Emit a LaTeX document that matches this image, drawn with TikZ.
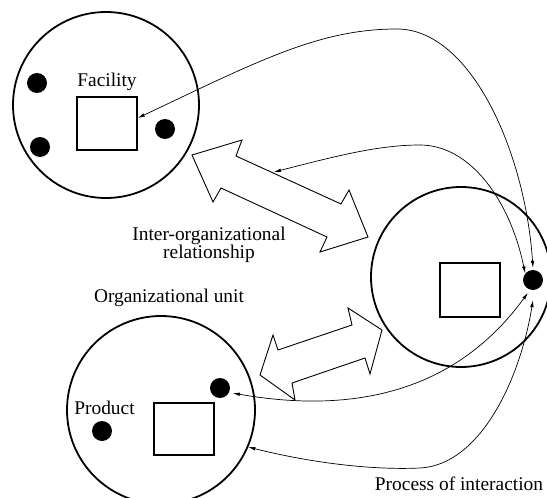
\documentclass[tikz,border=0pt]{standalone}
\usepackage{fontspec}
\setmainfont{Liberation Serif}
\usetikzlibrary{arrows.meta}
\begin{document}
\begin{tikzpicture}[x=1pt,y=-1pt,
  unit/.style={circle,draw,line width=1.8pt,minimum size=#1,inner sep=0pt},
  fac/.style={draw,line width=1.6pt,minimum width=60pt,minimum height=#1,inner sep=0pt},
  dot/.style={circle,fill,minimum size=20pt,inner sep=0pt},
  lbl/.style={font=\fontsize{19.4}{18.3}\selectfont,inner sep=0pt},
  rel/.style={draw,line width=0.9pt,line join=miter},
  flow/.style={line width=0.7pt,{Latex[length=7pt,width=3.6pt]}-{Latex[length=7pt,width=3.6pt]}}]
\useasboundingbox (0,0) rectangle (547,498);
% organizational units
\node[unit=186pt] (uA) at (106,105) {};
\node[unit=180pt] (uC) at (461,277) {};
\node[unit=188pt] (uB) at (161,410) {};
% facilities
\node[fac=53pt] (fA) at (107,123.5) {};
\node[fac=54pt] (fC) at (470,290) {};
\node[fac=52pt] (fB) at (184,429) {};
% products
\node[dot] (dA1) at (37,83) {};
\node[dot] (dA2) at (40,147) {};
\node[dot] (dA3) at (165,129) {};
\node[dot] (dC) at (533,280) {};
\node[dot] (dB1) at (220,388) {};
\node[dot] (dB2) at (102,431) {};
% inter-organizational relationships
\draw[rel] (192,155) -- (242,140) -- (236,156) -- (341,204) -- (349,190) -- (368,237)
  -- (320,252) -- (327,237) -- (221,188) -- (213,202) -- cycle;
\coordinate (relA) at (274,172);
\draw[rel] (382,330) -- (348,308) -- (352,325) -- (278,350) -- (273,335) -- (260,375)
  -- (295,400) -- (292,383) -- (365,358) -- (370,374) -- cycle;
% labels
\node[lbl,anchor=base] (tF) at (107,86) {Facility};
\node[lbl,anchor=north,align=center] (tR) at (209,226.7) {Inter-organizational\\relationship};
\node[lbl,anchor=base] (tO) at (169,302) {Organizational unit};
\node[lbl,anchor=base] (tP) at (104.5,414) {Product};
\node[lbl,anchor=base] (tI) at (459,490) {Process of interaction};
% processes of interaction
\draw[flow] ([yshift=5.5pt]fA.east) .. controls (260,60) and (320,29) .. (397,29)
  .. controls (470,29) and (525,150) .. ([yshift=2pt]dC.north);
\draw[flow] (relA) .. controls (340,155) and (380,145) .. (420,145)
  .. controls (470,145) and (510,200) .. (dC.140);
\draw[flow] ([xshift=4pt]dB1.-30) .. controls (340,412) and (450,400) .. ([yshift=-4pt]dC.240);
\draw[flow] (uB.-23) .. controls (320,465) and (380,470) .. (420,468)
  .. controls (480,465) and (520,380) .. ([yshift=-10pt]dC.south);
\end{tikzpicture}
\end{document}
